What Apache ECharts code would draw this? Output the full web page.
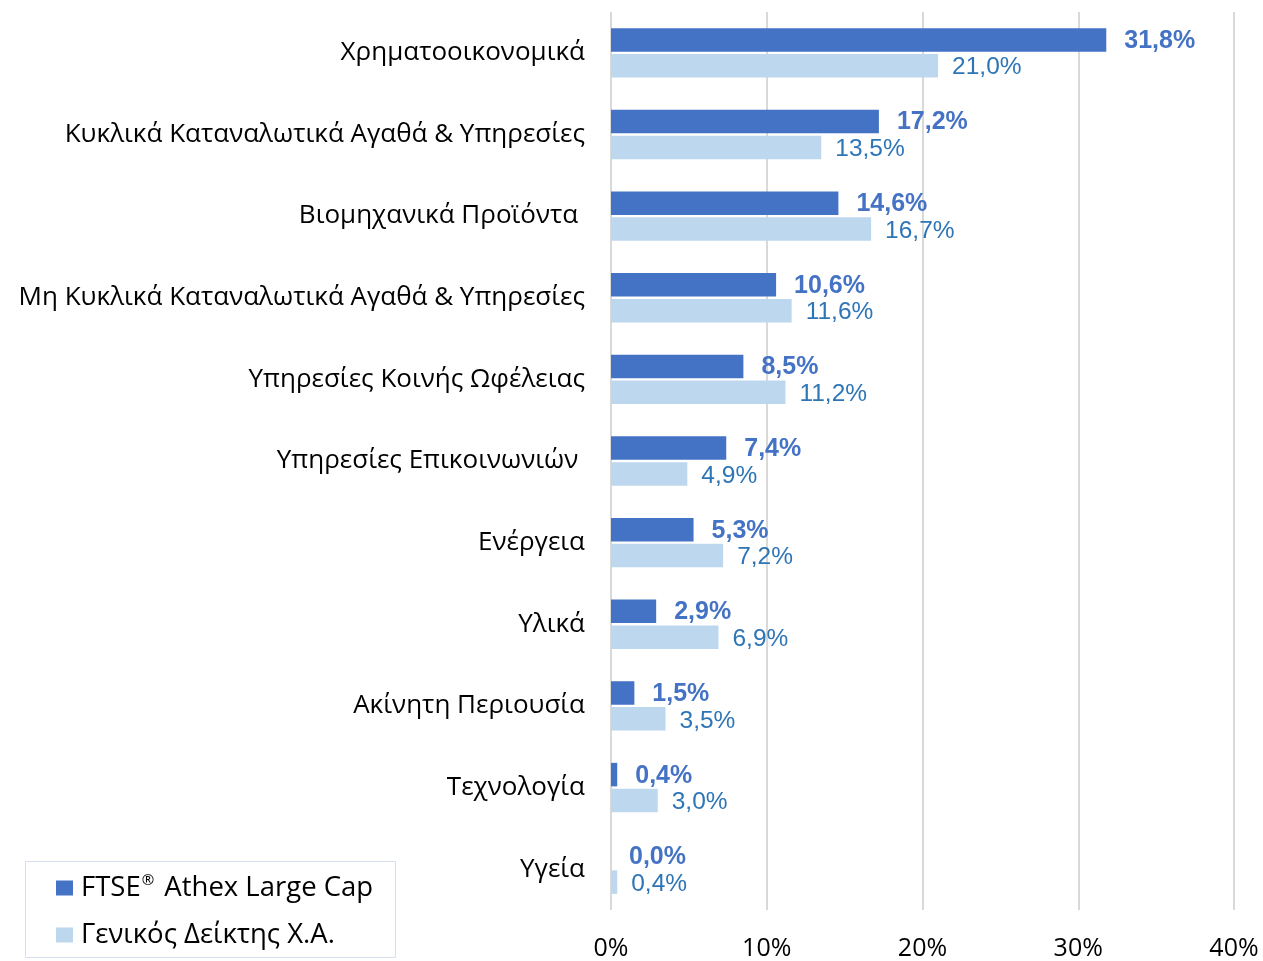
<!DOCTYPE html>
<html>
<head>
<meta charset="utf-8">
<title>Κλαδική κατανομή</title>
<script src="https://cdn.jsdelivr.net/npm/echarts@6/dist/echarts.min.js"></script>
<style>
  html, body { margin: 0; padding: 0; background: #fff; }
  #chart { width: 1263px; height: 961px; }
</style>
</head>
<body>
<div id="chart"></div>
<script>
// κλάδοι, από πάνω προς τα κάτω
const sectors = [
  'Χρηματοοικονομικά',
  'Κυκλικά Καταναλωτικά Αγαθά & Υπηρεσίες',
  'Βιομηχανικά Προϊόντα ',
  'Μη Κυκλικά Καταναλωτικά Αγαθά & Υπηρεσίες',
  'Υπηρεσίες Κοινής Ωφέλειας',
  'Υπηρεσίες Επικοινωνιών ',
  'Ενέργεια',
  'Υλικά',
  'Ακίνητη Περιουσία',
  'Τεχνολογία',
  'Υγεία'
]
// ποσοστά (%)
const largeCap = [31.8, 17.2, 14.6, 10.6, 8.5, 7.4, 5.3, 2.9, 1.5, 0.4, 0.0]
const generalIndex = [21.0, 13.5, 16.7, 11.6, 11.2, 4.9, 7.2, 6.9, 3.5, 3.0, 0.4]
const xTicks = [0, 10, 20, 30, 40]

const seriesNames = ['FTSE® Athex Large Cap', 'Γενικός Δείκτης Χ.Α.']
const textFont = '"Open Sans", "Noto Sans", sans-serif'
const numFont = '"Liberation Sans", Arial, sans-serif'

// 12,3% με δεκαδική υποδιαστολή
const pct = v => v.toFixed(1).replace('.', ',') + '%'

const chart = echarts.init(document.getElementById('chart'))

const option = {
  animation: false,
  grid: { left: 611, right: 29, top: 12, bottom: 49, containLabel: false },
  graphic: [
    {
      // πλαίσιο υπομνήματος
      type: 'rect',
      left: 25,
      top: 861,
      shape: { width: 370, height: 96 },
      style: { fill: '#fff', stroke: '#D6DFEF', lineWidth: 1 },
      z: 0
    }
  ],
  legend: {
    orient: 'vertical',
    left: 56,
    top: 873,
    padding: 0,
    itemGap: 17,
    itemWidth: 17,
    itemHeight: 15,
    icon: 'rect',
    data: seriesNames,
    // το ® σαν εκθέτης
    formatter: name => name.replace('®', '{sup|®}'),
    textStyle: {
      fontFamily: textFont,
      fontSize: 27.5,
      lineHeight: 30,
      color: '#000',
      padding: [0, 0, 0, 3],
      rich: {
        sup: {
          fontFamily: textFont,
          fontSize: 15,
          lineHeight: 30,
          verticalAlign: 'top',
          padding: [0, 3, 0, 1],
          color: '#000'
        }
      }
    },
    z: 5
  },
  xAxis: {
    type: 'value',
    min: xTicks[0],
    max: xTicks[xTicks.length - 1],
    interval: 10,
    axisLine: { show: false },
    axisTick: { show: false },
    splitLine: { lineStyle: { color: '#D9D9D9', width: 2 } },
    axisLabel: {
      formatter: '{value}%',
      margin: 26,
      fontFamily: textFont,
      fontSize: 25,
      color: '#000'
    }
  },
  yAxis: {
    type: 'category',
    inverse: true,
    data: sectors,
    axisLine: { show: false },
    axisTick: { show: false },
    axisLabel: {
      margin: 26,
      fontFamily: textFont,
      fontSize: 26,
      color: '#000'
    }
  },
  series: [
    {
      name: seriesNames[0],
      type: 'bar',
      data: largeCap,
      barWidth: 23.5,
      barGap: '10%',
      itemStyle: { color: '#4472C4' },
      label: {
        show: true,
        position: 'right',
        distance: 18,
        offset: [0, 1],
        formatter: p => pct(p.value),
        fontFamily: numFont,
        fontSize: 25,
        fontWeight: 'bold',
        color: '#4472C4'
      }
    },
    {
      name: seriesNames[1],
      type: 'bar',
      data: generalIndex,
      barWidth: 23.5,
      itemStyle: { color: '#BDD7EE' },
      label: {
        show: true,
        position: 'right',
        distance: 14,
        offset: [0, 2],
        formatter: p => pct(p.value),
        fontFamily: numFont,
        fontSize: 24.5,
        color: '#2E75B6'
      }
    }
  ]
}

chart.setOption(option)
</script>
</body>
</html>
